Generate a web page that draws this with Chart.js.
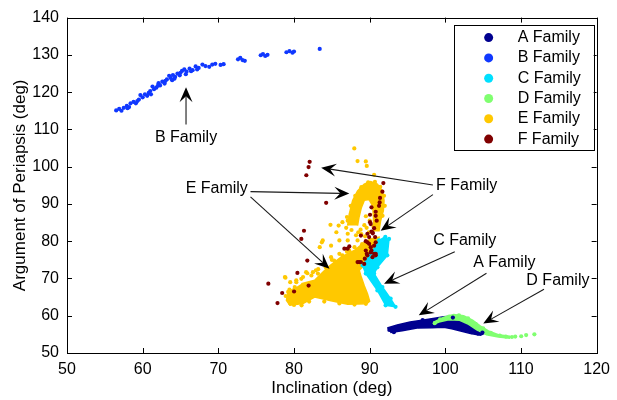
<!DOCTYPE html>
<html>
<head>
<meta charset="utf-8">
<script src="https://cdn.jsdelivr.net/npm/chart.js@4.4.1/dist/chart.umd.min.js"></script>
<style>
  html, body { margin: 0; padding: 0; background: #fff; }
  #wrap { width: 617px; height: 400px; }
</style>
</head>
<body>
<div id="wrap"><canvas id="orbitChart" width="617" height="400"></canvas></div>
<script>
// values: [inclination, argument of periapsis] in deg
const familyNames = ['A Family', 'B Family', 'C Family', 'D Family', 'E Family', 'F Family'];
const familyColors = ['#00008f', '#1038ff', '#00e0ff', '#80ff70', '#ffc800', '#800000'];

const aFamilyBand = [
  [92.33, 56.7], [93.64, 57.5], [95.35, 58.3], [97.57, 59.0], [99.8, 59.7], [101.51, 60.0],
  [102.56, 59.3], [103.6, 58.0], [104.65, 56.4], [105.18, 55.3], [104.65, 54.8], [103.34, 55.2],
  [102.03, 55.9], [100.85, 56.5], [99.8, 56.9], [98.23, 56.8], [96.27, 56.7], [94.3, 56.0], [92.73, 55.5]
];
const aFamilyDots = [
  [92.6, 56.2], [93.2, 55.6], [94.0, 56.9], [95.0, 57.6], [96.5, 57.2], [98.0, 58.6], [99.5, 57.5],
  [101.0, 59.5], [102.5, 56.2], [103.5, 55.6], [104.3, 55.2], [104.9, 55.5], [97.0, 58.8], [100.3, 57.3]
];

const bFamilyDots = [
  [56.5, 115.1], [56.9, 115.5], [57.2, 115.0], [57.5, 115.8], [57.9, 116.3], [58.2, 116.0], [58.4, 117.0],
  [58.8, 117.4], [59.1, 117.0], [59.5, 118.0], [59.7, 119.2], [60.0, 118.6], [60.3, 119.4], [60.6, 119.0],
  [61.0, 120.3], [61.3, 121.5], [61.5, 120.8], [61.8, 121.2], [62.1, 122.4], [62.3, 121.8], [62.6, 122.8],
  [62.9, 122.3], [63.2, 123.4], [63.5, 124.4], [63.7, 123.8], [64.0, 124.6], [64.3, 124.1], [64.6, 125.0],
  [64.9, 124.5], [65.2, 125.7], [65.5, 126.1], [65.8, 125.5], [66.2, 126.3], [66.6, 125.9], [67.0, 126.9],
  [67.4, 126.5], [67.9, 127.4], [68.3, 127.0], [69.2, 127.4], [69.6, 127.6], [70.3, 127.3], [70.7, 127.5],
  [72.6, 128.8], [72.9, 129.2], [73.2, 128.6], [73.5, 128.4], [75.6, 129.9], [75.9, 130.2], [76.2, 129.7],
  [76.5, 130.0], [79.0, 130.7], [79.4, 131.0], [79.8, 130.6], [80.0, 130.9], [83.4, 131.6],
  [58.0, 115.7], [59.3, 117.6], [60.8, 119.8], [62.0, 121.7], [63.0, 123.0], [64.2, 123.6], [65.0, 125.2],
  [66.4, 125.6], [67.2, 126.1], [68.8, 126.8], [61.1, 119.4], [63.9, 123.2], [65.7, 124.8]
];

const cFamilyBand = [
  [92.07, 81.2], [91.24, 80.2], [90.14, 76.6], [89.06, 73.5], [89.49, 71.3], [91.02, 66.8], [92.11, 62.8],
  [93.42, 62.4], [92.77, 64.6], [91.68, 67.7], [90.59, 71.3], [91.02, 73.0], [92.33, 76.2], [92.56, 80.6]
];

const dFamilyBand = [
  [98.45, 58.3], [99.8, 59.6], [101.11, 60.3], [102.42, 60.0], [103.6, 58.8], [104.65, 57.2], [105.7, 55.9],
  [107.01, 54.9], [108.45, 54.5], [108.45, 54.0], [107.01, 54.3], [105.44, 54.9], [104.26, 56.1],
  [103.08, 57.7], [101.9, 58.8], [100.46, 58.9], [99.15, 58.3], [98.45, 57.7]
];
const dFamilyDots = [
  [98.6, 58.0], [99.3, 59.0], [100.5, 59.8], [101.8, 60.1], [103.0, 59.3], [104.0, 57.8], [105.0, 56.6],
  [106.0, 55.4], [107.2, 54.7], [108.0, 54.4], [108.8, 54.3], [109.24, 54.4], [110.03, 54.5],
  [110.68, 54.8], [111.77, 55.0]
];

const eFamilyBlob = [
  [80.97, 68.6], [82.73, 69.5], [84.47, 73.0], [86.21, 75.7], [87.97, 77.5], [89.28, 79.7], [90.14, 80.6],
  [91.24, 81.05], [91.02, 77.5], [90.14, 75.3], [89.28, 73.5], [88.62, 72.2], [88.9, 70.3], [89.3, 68.0],
  [89.71, 65.9], [90.0, 63.9], [89.6, 63.2], [87.09, 63.1], [84.9, 64.0], [82.73, 65.0], [81.19, 63.3],
  [79.45, 62.8], [79.0, 64.1], [79.23, 66.4], [80.31, 67.7]
];
const eFamilyArch = [
  [87.09, 84.2], [87.31, 87.3], [87.75, 90.9], [88.4, 93.5], [89.28, 95.3], [90.14, 96.0], [91.02, 95.3],
  [91.68, 93.5], [91.9, 90.9], [91.81, 88.2], [91.45, 85.5], [91.24, 82.8], [90.5, 82.8], [90.5, 86.4],
  [90.4, 89.5], [89.9, 91.2], [89.3, 91.0], [88.9, 89.0], [88.6, 86.5], [88.4, 84.2]
];
const eFamilyDots = [
  [87.97, 104.9], [88.4, 101.5], [89.49, 101.4], [89.62, 100.2], [90.59, 97.8],
  [87.1, 85.5], [86.4, 85.1], [85.9, 84.2], [87.1, 82.0], [85.6, 82.4], [86.0, 80.2], [87.1, 80.2],
  [83.8, 80.2], [84.9, 78.8], [83.4, 78.4], [87.3, 77.5], [86.4, 76.2], [88.4, 80.2], [84.82, 84.4],
  [83.68, 79.7], [84.9, 75.7],
  [78.8, 70.4], [79.5, 69.0], [80.3, 69.5], [81.2, 70.4], [81.6, 71.7], [82.3, 70.8], [82.9, 72.2],
  [84.2, 73.0], [85.3, 74.8], [85.8, 73.0], [80.1, 67.7], [79.7, 66.4], [79.2, 65.0], [79.5, 63.3],
  [81.76, 71.4], [82.5, 71.7], [83.16, 71.3], [80.97, 69.9], [78.87, 70.2], [80.31, 69.0], [81.63, 68.2],
  [79.23, 66.4], [80.54, 64.6], [82.73, 66.4],
  [84.0, 74.0], [85.0, 75.0], [86.0, 76.6], [87.0, 77.2], [88.0, 78.4], [89.0, 79.2], [83.2, 72.5],
  [80.0, 62.9], [81.0, 62.8], [82.0, 63.8], [84.0, 63.8], [86.0, 63.3], [88.0, 63.0], [89.5, 63.2],
  [78.9, 65.3], [79.4, 67.0],
  [89.3, 84.3], [88.8, 83.1], [89.9, 82.4], [90.5, 83.9], [88.2, 81.6], [87.6, 83.0], [86.9, 83.6],
  [88.9, 81.9], [89.4, 81.3], [88.5, 82.4], [89.6, 83.6], [90.0, 85.5], [89.5, 86.7],
  [87.0, 86.5], [87.5, 89.5], [88.1, 92.2], [88.9, 94.5], [89.8, 95.8], [90.7, 95.9], [91.4, 94.6],
  [91.9, 92.2], [92.0, 89.5], [91.7, 86.8]
];

const fFamilyDots = [
  [82.07, 101.3], [81.93, 99.9], [81.63, 97.7], [84.25, 90.3],
  [91.81, 95.6], [91.68, 93.3], [91.37, 91.6], [91.32, 90.4], [91.24, 89.5], [90.24, 89.1], [90.8, 87.9],
  [90.8, 86.8], [90.93, 85.5], [90.05, 87.1], [90.05, 85.1], [90.59, 83.5], [90.24, 82.6], [90.41, 82.1],
  [89.71, 82.0], [90.72, 81.1], [90.8, 79.7], [89.49, 80.0], [89.93, 79.3], [90.14, 78.4], [90.24, 77.5],
  [90.59, 76.6], [89.62, 76.6], [90.8, 76.2], [89.36, 75.3], [88.84, 74.4], [88.4, 74.4], [87.09, 78.0],
  [86.66, 78.0],
  [81.32, 82.8], [80.97, 80.6], [81.76, 74.8], [80.45, 71.5], [76.61, 68.6], [78.44, 66.1], [80.01, 66.5],
  [81.93, 68.1], [77.82, 63.4],
  [90.14, 84.6], [90.37, 82.4], [88.84, 81.5], [89.93, 81.1], [89.71, 79.7], [90.59, 78.8], [87.31, 78.6],
  [89.49, 77.5], [90.14, 77.0], [90.8, 76.6], [89.71, 76.2], [90.37, 75.7], [88.62, 74.4], [89.28, 73.9]
];

// callouts: label centre and arrow tail -> tip, in data units
const callouts = [
  { text: 'B Family', at: [65.73, 107.7], arrows: [[65.73, 111.3, 65.73, 121.3]] },
  { text: 'E Family', at: [69.79, 94.1], arrows: [[74.25, 93.3, 87.31, 92.8], [74.25, 91.9, 84.69, 72.6]] },
  { text: 'F Family', at: [102.82, 94.9], arrows: [[98.36, 95.1, 83.59, 99.7], [98.36, 92.5, 91.45, 82.8]] },
  { text: 'C Family', at: [102.56, 80.2], arrows: [[101.25, 77.2, 91.9, 68.6]] },
  { text: 'A Family', at: [107.8, 74.3], arrows: [[105.44, 71.4, 96.49, 60.1]] },
  { text: 'D Family', at: [114.88, 69.5], arrows: [[113.04, 67.1, 105.01, 57.9]] }
];

const FONT = "'Liberation Sans', Arial, Helvetica, sans-serif";
const toPts = arr => arr.map(([x, y]) => ({ x, y }));

function dots(data, color, order) {
    return { data: toPts(data), backgroundColor: color, borderColor: color, pointRadius: 2.1,
             pointBorderWidth: 0, pointHoverRadius: 0, order: order };
}
function patch(data, color, order) {
    return { data: toPts(data), showLine: true, fill: 'shape', backgroundColor: color, borderColor: color,
             borderWidth: 1.5, pointRadius: 0, pointHoverRadius: 0, tension: 0, order: order };
}

function drawArrow(ctx, x0, y0, x1, y1) {
    const ang = Math.atan2(y1 - y0, x1 - x0);
    const len = 15, half = 6.5, notch = 9;
    const bx = x1 - len * Math.cos(ang), by = y1 - len * Math.sin(ang);
    const nx = x1 - notch * Math.cos(ang), ny = y1 - notch * Math.sin(ang);
    ctx.beginPath();
    ctx.moveTo(x0, y0);
    ctx.lineTo(nx, ny);
    ctx.stroke();
    ctx.beginPath();
    ctx.moveTo(x1, y1);
    ctx.lineTo(bx - half * Math.sin(ang), by + half * Math.cos(ang));
    ctx.lineTo(nx, ny);
    ctx.lineTo(bx + half * Math.sin(ang), by - half * Math.cos(ang));
    ctx.closePath();
    ctx.fill();
}

const framePlugin = {
    id: 'frame',
    afterDraw(chart) {
        const { ctx, chartArea: a, scales } = chart;
        const sx = scales.x, sy = scales.y;
        ctx.save();
        ctx.strokeStyle = '#000';
        ctx.lineWidth = 1;
        ctx.strokeRect(Math.round(a.left) + 0.5, Math.round(a.top) + 0.5,
                       Math.round(a.right - a.left), Math.round(a.bottom - a.top));
        ctx.beginPath();
        sx.ticks.forEach(t => {
            const px = Math.round(sx.getPixelForValue(t.value)) + 0.5;
            ctx.moveTo(px, a.bottom); ctx.lineTo(px, a.bottom - 5);
            ctx.moveTo(px, a.top); ctx.lineTo(px, a.top + 5);
        });
        sy.ticks.forEach(t => {
            const py = Math.round(sy.getPixelForValue(t.value)) + 0.5;
            ctx.moveTo(a.left, py); ctx.lineTo(a.left + 5, py);
            ctx.moveTo(a.right, py); ctx.lineTo(a.right - 5, py);
        });
        ctx.stroke();

        // callouts
        ctx.strokeStyle = '#1a1a1a';
        ctx.fillStyle = '#000';
        ctx.lineWidth = 1.1;
        ctx.font = '16px ' + FONT;
        ctx.textAlign = 'center';
        ctx.textBaseline = 'middle';
        callouts.forEach(c => {
            ctx.fillText(c.text, sx.getPixelForValue(c.at[0]), sy.getPixelForValue(c.at[1]));
            c.arrows.forEach(([x0, y0, x1, y1]) => {
                drawArrow(ctx, sx.getPixelForValue(x0), sy.getPixelForValue(y0),
                          sx.getPixelForValue(x1), sy.getPixelForValue(y1));
            });
        });

        // legend box
        const left = a.right - 143, top = a.top + 7, w = 140, h = 125;
        ctx.fillStyle = '#fff';
        ctx.fillRect(left, top, w, h);
        ctx.strokeStyle = '#000';
        ctx.lineWidth = 1;
        ctx.strokeRect(Math.round(left) + 0.5, Math.round(top) + 0.5, w, h);
        ctx.textAlign = 'left';
        familyNames.forEach((name, i) => {
            const y = top + 13 + i * 20.3;
            ctx.fillStyle = familyColors[i];
            ctx.beginPath();
            ctx.arc(left + 35, y, 4.5, 0, Math.PI * 2);
            ctx.fill();
            ctx.fillStyle = '#000';
            ctx.fillText(name, left + 64, y);
        });
        ctx.restore();
    }
};

new Chart(document.getElementById('orbitChart'), {
    type: 'scatter',
    data: {
        datasets: [
            dots(fFamilyDots, familyColors[5], 1),
            dots(cFamilyBand, familyColors[2], 2),
            patch(cFamilyBand, familyColors[2], 2),
            dots(eFamilyDots, familyColors[4], 3),
            patch(eFamilyArch, familyColors[4], 3),
            patch(eFamilyBlob, familyColors[4], 3),
            dots(aFamilyDots, familyColors[0], 4),
            dots(dFamilyDots, familyColors[3], 5),
            patch(dFamilyBand, familyColors[3], 5),
            patch(aFamilyBand, familyColors[0], 6),
            dots(bFamilyDots, familyColors[1], 7)
        ]
    },
    options: {
        responsive: false,
        animation: false,
        layout: { padding: { left: 0, right: 16, top: 16, bottom: 0 } },
        plugins: { legend: { display: false }, tooltip: { enabled: false } },
        scales: {
            x: {
                type: 'linear', min: 50, max: 120,
                grid: { display: false, drawTicks: false },
                border: { display: false },
                ticks: { stepSize: 10, padding: 7, color: '#000', maxRotation: 0, font: { family: FONT, size: 16 } },
                title: { display: true, text: 'Inclination (deg)', color: '#000',
                         font: { family: FONT, size: 17 }, padding: { top: 0, bottom: 1 } },
                afterFit: s => { s.height = 47; }
            },
            y: {
                type: 'linear', min: 50, max: 140,
                grid: { display: false, drawTicks: false },
                border: { display: false },
                ticks: { stepSize: 10, padding: 8, color: '#000', font: { family: FONT, size: 16 } },
                title: { display: true, text: 'Argument of Periapsis (deg)', color: '#000',
                         font: { family: FONT, size: 17 }, padding: { top: 10, bottom: 0 } },
                afterFit: s => { s.width = 67; }
            }
        }
    },
    plugins: [framePlugin]
});
</script>
</body>
</html>
